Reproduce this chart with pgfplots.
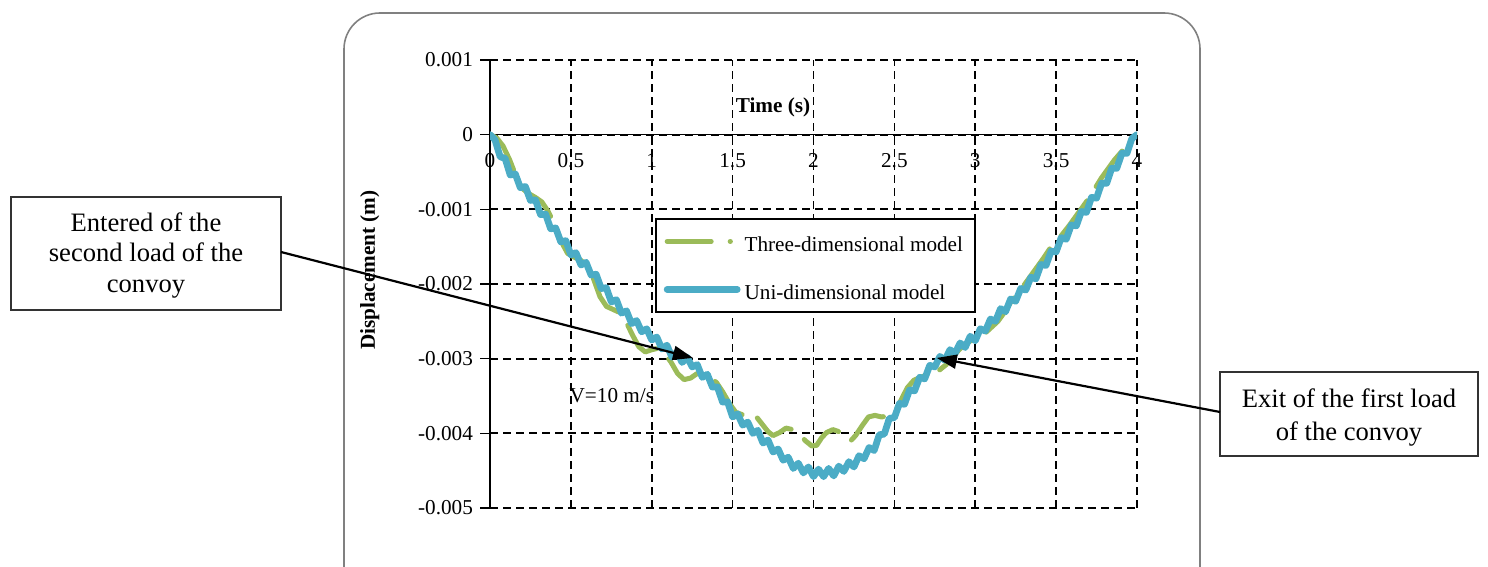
\documentclass[border=0pt]{standalone}
\usepackage{fontspec}
\setmainfont{Liberation Serif}
\usepackage{pgfplots}
\pgfplotsset{compat=1.18}
\usetikzlibrary{arrows.meta}
\definecolor{grthree}{RGB}{155,187,89}
\definecolor{blone}{RGB}{75,172,198}
\pgfplotsset{
  legthree/.style={legend image code/.code={\draw[##1,solid] (0pt,0pt)--(22pt,0pt); \draw[##1,solid] (31.5pt,0pt)--(31.6pt,0pt); \path (35pt,0pt);}},
  legone/.style={legend image code/.code={\draw[##1] (0pt,0pt)--(35pt,0pt);}},
}
\begin{document}
\begin{tikzpicture}
\useasboundingbox (0pt,0pt) rectangle (744pt,283.5pt);
\draw[black!50, line width=0.8pt, rounded corners=18pt] (172pt,-30pt) rectangle (600pt,277pt);
\begin{axis}[
  at={(245pt,29.5pt)}, anchor=south west,
  scale only axis, width=323.5pt, height=224pt,
  xmin=0, xmax=4, ymin=-0.005, ymax=0.001,
  axis x line=middle, axis y line=left,
  axis line style={-, black, line width=0.8pt},
  hide obscured x ticks=false, hide obscured y ticks=false,
  xtick={0,0.5,1,1.5,2,2.5,3,3.5,4},
  xticklabels={0,0.5,1,1.5,2,2.5,3,3.5,4},
  ytick={-0.005,-0.004,-0.003,-0.002,-0.001,0,0.001},
  yticklabels={-0.005,-0.004,-0.003,-0.002,-0.001,0,0.001},
  scaled y ticks=false, scaled x ticks=false,
  grid=major,
  major grid style={black, dash pattern=on 4pt off 2.5pt, line width=0.85pt},
  tick align=outside, major tick length=5pt, tick style={black, line width=0.8pt},
  ticklabel style={font=\fontsize{10.6}{12}\selectfont},
  xticklabel style={yshift=-1pt},
  xlabel={\textbf{Time (s)}}, ylabel={\textbf{Displacement (m)}},
  every axis x label/.style={at={(axis description cs:0.4374,0.895)}, anchor=center, font=\fontsize{10.6}{12}\selectfont},
  every axis y label/.style={at={(axis description cs:-0.186,0.531)}, rotate=90, anchor=center, font=\fontsize{10.6}{12}\selectfont},
  legend style={at={(0.255,0.647)}, anchor=north west, draw=black, line width=0.8pt,
    font=\fontsize{10.6}{12}\selectfont, inner xsep=4pt, inner ysep=4pt, row sep=9.5pt,
    nodes={inner sep=2pt, text height=10.5pt, text depth=0pt}},
  legend cell align=left,
]
\addplot[grthree, line width=2.5pt, line cap=round, line join=round, dash pattern=on 22pt off 8.5pt, legthree]
coordinates {
(0,0) (0.04,-0.00004) (0.08,-0.00015) (0.12,-0.00033) (0.16,-0.00055) (0.20,-0.00072)
(0.24,-0.00079) (0.28,-0.00084) (0.32,-0.00090) (0.36,-0.00103) (0.40,-0.00121) (0.44,-0.00143)
(0.48,-0.00159) (0.52,-0.00164) (0.56,-0.00168) (0.60,-0.00176) (0.64,-0.00193) (0.68,-0.00217)
(0.72,-0.00230) (0.76,-0.00234) (0.80,-0.00238) (0.84,-0.00250) (0.88,-0.00268) (0.92,-0.00284)
(0.96,-0.00291) (1.00,-0.00288) (1.04,-0.00286) (1.08,-0.00293) (1.12,-0.00305) (1.16,-0.00320)
(1.20,-0.00328) (1.24,-0.00326) (1.28,-0.00320) (1.32,-0.00320) (1.36,-0.00325) (1.40,-0.00332)
(1.44,-0.00345) (1.48,-0.00360) (1.52,-0.00372) (1.56,-0.00375) (1.60,-0.00373) (1.64,-0.00376)
(1.68,-0.00387) (1.72,-0.00398) (1.75,-0.00403) (1.79,-0.00399) (1.83,-0.00393) (1.87,-0.00395)
(1.91,-0.00400) (1.95,-0.00410) (1.99,-0.00417) (2.02,-0.00416) (2.05,-0.00406) (2.08,-0.00399)
(2.12,-0.00395) (2.16,-0.00398) (2.20,-0.00408) (2.23,-0.00410) (2.26,-0.00403) (2.30,-0.00390)
(2.34,-0.00378) (2.38,-0.00376) (2.42,-0.00378) (2.46,-0.00377) (2.50,-0.00373) (2.54,-0.00356)
(2.58,-0.00339) (2.62,-0.00329) (2.66,-0.00325) (2.70,-0.00322) (2.74,-0.00319) (2.78,-0.00315)
(2.82,-0.00308) (2.86,-0.00298) (2.90,-0.00288) (2.94,-0.00280) (2.98,-0.00275) (3.02,-0.00273)
(3.06,-0.00266) (3.10,-0.00258) (3.14,-0.00250) (3.18,-0.00238) (3.22,-0.00224) (3.26,-0.00212)
(3.30,-0.00202) (3.34,-0.00190) (3.38,-0.00178) (3.42,-0.00166) (3.46,-0.00153) (3.50,-0.00144)
(3.54,-0.00133) (3.58,-0.00122) (3.62,-0.00110) (3.66,-0.00098) (3.70,-0.00086) (3.74,-0.00072)
(3.78,-0.00058) (3.82,-0.00046) (3.86,-0.00034) (3.90,-0.00024) (3.94,-0.00014) (3.98,-0.00004)
(4.00,0)
};
\addlegendentry{Three-dimensional model}
\addplot[blone, line width=3.4pt, line cap=round, line join=round, legone]
coordinates {
(0,0) (0.03125,-0.00007) (0.0625,-0.000295) (0.09375,-0.000318) (0.125,-0.00054)
(0.15625,-0.000525) (0.1875,-0.00071) (0.21875,-0.000695) (0.25,-0.00088)
(0.28125,-0.000875) (0.3125,-0.00107) (0.34375,-0.001065) (0.375,-0.00126)
(0.40625,-0.00125) (0.4375,-0.001435) (0.46875,-0.00142) (0.5,-0.00161)
(0.53125,-0.00158) (0.5625,-0.001745) (0.59375,-0.00171) (0.625,-0.00188)
(0.65625,-0.00187) (0.6875,-0.00206) (0.71875,-0.00205) (0.75,-0.00224)
(0.78125,-0.00221) (0.8125,-0.00239) (0.84375,-0.00236) (0.875,-0.00253)
(0.90625,-0.00249) (0.9375,-0.00264) (0.96875,-0.0026) (1.0,-0.00275)
(1.03125,-0.00271) (1.0625,-0.00287) (1.09375,-0.00282) (1.125,-0.00298)
(1.15625,-0.00291) (1.1875,-0.00305) (1.21875,-0.00298) (1.25,-0.00311)
(1.28125,-0.00308) (1.3125,-0.00325) (1.34375,-0.00321) (1.375,-0.00338)
(1.40625,-0.00338) (1.4375,-0.00358) (1.46875,-0.00358) (1.5,-0.00378)
(1.53125,-0.00374) (1.5625,-0.00389) (1.59375,-0.00385) (1.625,-0.004)
(1.65625,-0.00396) (1.6875,-0.00413) (1.71875,-0.00409) (1.75,-0.00425)
(1.78125,-0.00421) (1.8125,-0.00436) (1.84375,-0.00432) (1.875,-0.00447)
(1.90625,-0.0044) (1.9375,-0.00453) (1.96875,-0.00445) (2.0,-0.00458)
(2.03125,-0.00448) (2.0625,-0.00458) (2.09375,-0.00447) (2.125,-0.00457)
(2.15625,-0.00444) (2.1875,-0.00451) (2.21875,-0.00438) (2.25,-0.00445)
(2.28125,-0.0043) (2.3125,-0.00434) (2.34375,-0.00419) (2.375,-0.00423)
(2.40625,-0.00402) (2.4375,-0.00401) (2.46875,-0.0038) (2.5,-0.00379)
(2.53125,-0.0036) (2.5625,-0.00361) (2.59375,-0.00342) (2.625,-0.00343)
(2.65625,-0.00325) (2.6875,-0.00327) (2.71875,-0.00309) (2.75,-0.00311)
(2.78125,-0.00297) (2.8125,-0.00302) (2.84375,-0.00288) (2.875,-0.00293)
(2.90625,-0.00279) (2.9375,-0.00285) (2.96875,-0.0027) (3.0,-0.00276)
(3.03125,-0.0026) (3.0625,-0.00263) (3.09375,-0.00247) (3.125,-0.0025)
(3.15625,-0.00233) (3.1875,-0.00237) (3.21875,-0.0022) (3.25,-0.00223)
(3.28125,-0.00206) (3.3125,-0.00208) (3.34375,-0.00191) (3.375,-0.00193)
(3.40625,-0.00174) (3.4375,-0.00175) (3.46875,-0.00156) (3.5,-0.00157)
(3.53125,-0.00138) (3.5625,-0.0014) (3.59375,-0.00121) (3.625,-0.00122)
(3.65625,-0.00103) (3.6875,-0.00104) (3.71875,-0.00084) (3.75,-0.00085)
(3.78125,-0.00065) (3.8125,-0.00065) (3.84375,-0.00045) (3.875,-0.00045)
(3.90625,-0.00025) (3.9375,-0.00025) (3.96875,-0.00005) (4.0,0)
};
\addlegendentry{Uni-dimensional model}
\node[anchor=west, inner sep=0pt, font=\fontsize{10.6}{12}\selectfont] at (axis cs:0.49,-0.00349) {V=10 m/s};
\coordinate (tipL) at (axis cs:1.255,-0.00299);
\coordinate (tipR) at (axis cs:2.762,-0.00299);
\end{axis}
\draw[black!80, line width=0.6pt] (5.5pt,128.5pt) rectangle (140.5pt,185pt);
\node[align=center, font=\fontsize{13.3}{15.3}\selectfont, inner sep=0pt] at (73pt,155.75pt)
  {Entered of the\\second load of the\\convoy};
\draw[black!80, line width=0.6pt] (610pt,55.5pt) rectangle (739pt,97.5pt);
\node[align=center, font=\fontsize{13.3}{16.5}\selectfont, inner sep=0pt] at (674.5pt,74.5pt)
  {Exit of the first load\\of the convoy};
\draw[-{Triangle[length=10pt,width=7pt]}, line width=1.1pt] (140.5pt,157.5pt) -- (tipL);
\draw[-{Triangle[length=10pt,width=7pt]}, line width=1.1pt] (610pt,77.5pt) -- (tipR);
\end{tikzpicture}
\end{document}
